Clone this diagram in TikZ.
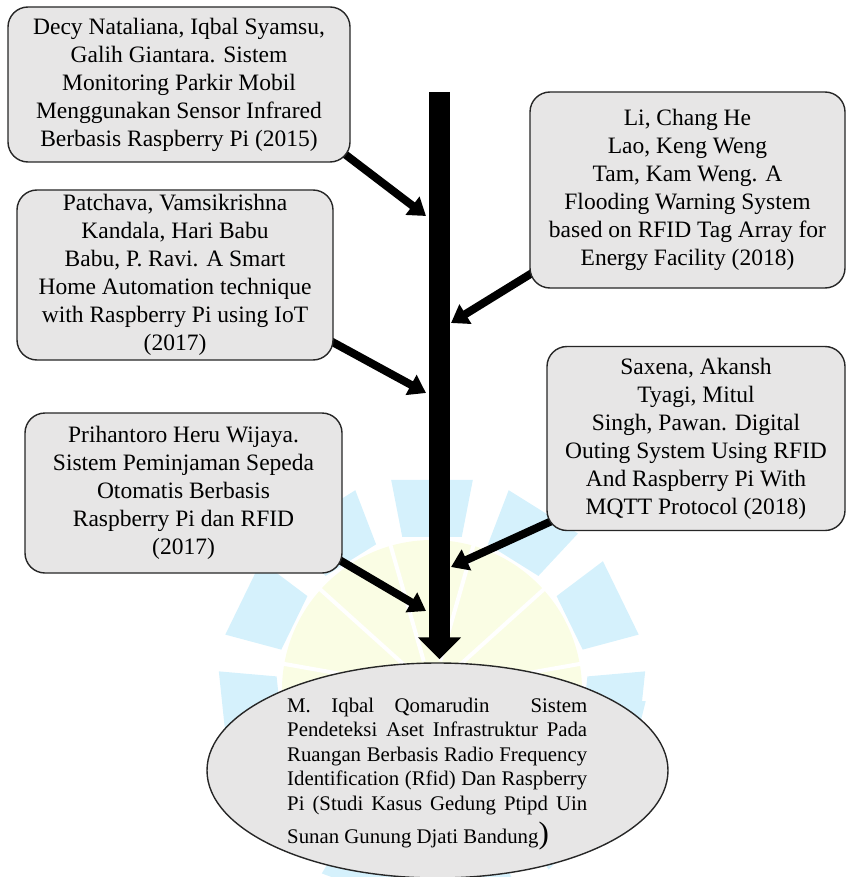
\documentclass[tikz,border=0pt]{standalone}
\usepackage{fontspec}
\setmainfont{Liberation Serif}
\usetikzlibrary{arrows.meta,shapes.geometric}
\pgfdeclarelayer{wm}
\pgfdeclarelayer{back}
\pgfsetlayers{wm,back,main}
\definecolor{boxfill}{HTML}{E7E6E6}
\definecolor{boxline}{HTML}{262626}
\definecolor{wmblue}{HTML}{D5F1FC}
\definecolor{wmyellow}{HTML}{FAFDE4}
\tikzset{
  refbox/.style={draw=boxline, line width=1.4pt, fill=boxfill, rounded corners=20pt,
    align=center, inner sep=0pt, font=\fontsize{23.5}{28}\selectfont},
  resellipse/.style={ellipse, draw=boxline, line width=1.4pt, fill=boxfill, inner sep=0pt},
  restext/.style={text width=300pt, align=justify, inner sep=0pt, font=\fontsize{20.8}{24.5}\selectfont},
  feed/.style={line width=8pt, -{Triangle[length=17pt,width=22pt]}},
  mainarrow/.style={line width=21pt, -{Triangle[length=22pt,width=42pt]}},
}
\begin{document}
\begin{tikzpicture}[x=1pt,y=-1pt]
\useasboundingbox (0,0) rectangle (846,877);

% reference boxes
\node[refbox, minimum width=342pt, minimum height=155pt] (b1) at (179,84.5)
  {Decy Nataliana, Iqbal Syamsu,\\Galih Giantara. Sistem\\Monitoring Parkir Mobil\\Menggunakan Sensor Infrared\\Berbasis Raspberry Pi (2015)};
\node[refbox, minimum width=315pt, minimum height=196pt] (b2) at (687.5,190)
  {Li, Chang He\\Lao, Keng Weng\\Tam, Kam Weng. A\\Flooding Warning System\\based on RFID Tag Array for\\Energy Facility (2018)};
\node[refbox, minimum width=316pt, minimum height=170pt] (b3) at (175,275)
  {Patchava, Vamsikrishna\\Kandala, Hari Babu\\Babu, P. Ravi. A Smart\\Home Automation technique\\with Raspberry Pi using IoT\\(2017)};
\node[refbox, minimum width=298pt, minimum height=184pt] (b4) at (696,438.5)
  {Saxena, Akansh\\Tyagi, Mitul\\Singh, Pawan. Digital\\Outing System Using RFID\\And Raspberry Pi With\\MQTT Protocol (2018)};
\node[refbox, minimum width=317pt, minimum height=160pt] (b5) at (183.5,493)
  {Prihantoro Heru Wijaya.\\Sistem Peminjaman Sepeda\\Otomatis Berbasis\\Raspberry Pi dan RFID\\(2017)};

% result ellipse
\node[resellipse, minimum width=461pt, minimum height=215pt] (res) at (437.5,770.5) {};
\node[restext, anchor=north west] (rtxt) at (287,697.5)
  {M. Iqbal Qomarudin \ Sistem\linebreak
   Pendeteksi Aset Infrastruktur Pada\linebreak
   Ruangan Berbasis Radio Frequency\linebreak
   Identification (Rfid) Dan Raspberry\linebreak
   Pi (Studi Kasus Gedung Ptipd Uin\linebreak
   \rule{0pt}{28pt}Sunan Gunung Djati Bandung{\fontsize{31}{31}\selectfont)}};

% connectors
\begin{pgfonlayer}{back}
  \coordinate (top) at (439.5,92);
  \draw[mainarrow, shorten >=3pt] (top) -- (top |- res.north);
  \coordinate (t1) at (426,216);
  \coordinate (t2) at (451,323);
  \coordinate (t3) at (426,393);
  \coordinate (t4) at (451,567);
  \coordinate (t5) at (426,611);
  \draw[feed] ([shift={(-13,-14)}]b1.south east) -- (t1);
  \draw[feed] ([shift={(13,-22)}]b2.south west) -- (t2);
  \draw[feed] ([shift={(-11,-24)}]b3.south east) -- (t3);
  \draw[feed] ([shift={(16,-15)}]b4.south west) -- (t4);
  \draw[feed] ([shift={(-14,-20)}]b5.south east) -- (t5);
\end{pgfonlayer}

% faint watermark
\begin{pgfonlayer}{wm}
  \begin{scope}[shift={(432,690)}]
    \fill[wmyellow] (0,0) circle[radius=150];
    \foreach \a in {10,42,...,360} {
      \draw[white, line width=4pt] (-\a:30) -- (-\a:152);
    }
    \foreach \a in {-6,26,...,346} {
      \fill[wmblue] (-\a+11:156) -- (-\a-11:156) -- (-\a-11:214) -- (-\a+11:214) -- cycle;
    }
  \end{scope}
\end{pgfonlayer}
\end{tikzpicture}
\end{document}
